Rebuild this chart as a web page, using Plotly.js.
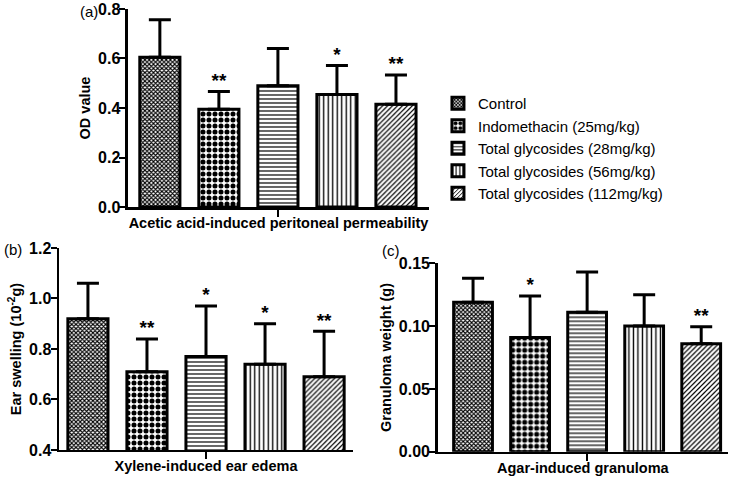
<!DOCTYPE html>
<html>
<head>
<meta charset="utf-8">
<script src="https://cdn.plot.ly/plotly-3.0.1.min.js"></script>
<style>
  html, body { margin: 0; padding: 0; background: #fff; }
  #chart { width: 733px; height: 478px; }
</style>
</head>
<body>
<div id="chart"></div>
<script>
// groups, shared by the three panels
const groups = ["Control", "Indomethacin (25mg/kg)", "Total glycosides (28mg/kg)",
                "Total glycosides (56mg/kg)", "Total glycosides (112mg/kg)"];

// (a) acetic acid-induced peritoneal permeability, OD value
const meanA = [0.605, 0.395, 0.49, 0.455, 0.415];
const sdA   = [0.152, 0.072, 0.15, 0.117, 0.118];
const starA = ["", "**", "", "*", "**"];

// (b) xylene-induced ear edema, ear swelling (10^-2 g)
const meanB = [0.92, 0.71, 0.77, 0.74, 0.69];
const sdB   = [0.14, 0.13, 0.20, 0.16, 0.18];
const starB = ["", "**", "*", "*", "**"];

// (c) agar-induced granuloma, granuloma weight (g)
const meanC = [0.119, 0.091, 0.111, 0.100, 0.086];
const sdC   = [0.019, 0.033, 0.032, 0.025, 0.0135];
const starC = ["", "*", "", "", "**"];

const patterns = [
    {shape: "x", size: 3, solidity: 0.6},
    {shape: ".", size: 6, solidity: 0.55},
    {shape: "-", size: 4, solidity: 0.3},
    {shape: "|", size: 4.5, solidity: 0.3},
    {shape: "/", size: 3.5, solidity: 0.35}
];

const FONT = "Liberation Sans, Arial, sans-serif";
let traces = [];

function addPanel(means, sds, stars, xa, ya, legend) {
    groups.forEach((g, i) => {
        traces.push({
            type: "bar",
            name: g,
            x: [i],
            y: [means[i]],
            width: 0.68,
            xaxis: xa, yaxis: ya,
            showlegend: legend,
            marker: {
                color: "#ffffff",
                line: {color: "#000", width: 3},
                pattern: Object.assign({fgcolor: "#000", bgcolor: "#fff", fillmode: "replace"}, patterns[i])
            },
            error_y: {type: "data", symmetric: false, array: [sds[i]], arrayminus: [0],
                      color: "#000", thickness: 3, width: 11},
            hoverinfo: "skip"
        });
    });
    // significance stars above the error bars
    traces.push({
        type: "scatter", mode: "text",
        x: groups.map((g, i) => i),
        y: means.map((m, i) => m + sds[i]),
        text: stars,
        textposition: "top center",
        textfont: {family: FONT, size: 19, color: "#000", weight: "bold"},
        xaxis: xa, yaxis: ya, showlegend: false, hoverinfo: "skip"
    });
}

addPanel(meanA, sdA, starA, "x", "y", true);
addPanel(meanB, sdB, starB, "x2", "y2", false);
addPanel(meanC, sdC, starC, "x3", "y3", false);

function xAxis(domain, range, title, anchor) {
    return {
        domain: domain, range: range, anchor: anchor,
        showgrid: false, zeroline: false, showline: true, linecolor: "#000", linewidth: 2.5,
        ticks: "outside", ticklen: 7, tickwidth: 2, tickcolor: "#000",
        tickvals: [2], ticktext: [""],
        title: {text: title, standoff: 0, font: {family: FONT, size: 14.5, color: "#000", weight: "bold"}},
        fixedrange: true
    };
}
function yAxis(domain, range, dtick, fmt, title, anchor) {
    return {
        domain: domain, range: range, anchor: anchor, dtick: dtick, tickformat: fmt,
        showgrid: false, zeroline: false, showline: true, linecolor: "#000", linewidth: 2.5,
        ticks: "outside", ticklen: 6, tickwidth: 2, tickcolor: "#000", ticklabelstandoff: -4,
        tickfont: {family: FONT, size: 16, color: "#000", weight: "bold"},
        title: {text: title, standoff: 4, font: {family: FONT, size: 14.5, color: "#000", weight: "bold"}},
        fixedrange: true
    };
}

const layout = {
    width: 733, height: 478,
    margin: {l: 0, r: 0, t: 0, b: 0},
    paper_bgcolor: "#fff", plot_bgcolor: "#fff",
    font: {family: FONT, color: "#000"},
    barmode: "overlay",
    xaxis: xAxis([0.1746, 0.5853], [-0.54, 4.56], "Acetic acid-induced peritoneal permeability", "y"),
    yaxis: yAxis([0.5669, 0.9812], [0, 0.8], 0.2, ".1f", "OD value", "x"),
    xaxis2: xAxis([0.0805, 0.4816], [-0.49, 4.49], "Xylene-induced ear edema", "y2"),
    yaxis2: yAxis([0.0586, 0.4812], [0.4, 1.2], 0.2, ".1f", "Ear swelling (10<sup>-2</sup>g)", "x2"),
    xaxis3: xAxis([0.5971, 0.9932], [-0.62, 4.47], "Agar-induced granuloma", "y3"),
    yaxis3: yAxis([0.055, 0.4492], [0, 0.15], 0.05, ".2f", "Granuloma weight (g)", "x3"),
    legend: {
        x: 0.5975, y: 0.818, xanchor: "left", yanchor: "top",
        font: {family: FONT, size: 15, color: "#000"},
        tracegroupgap: 0, itemwidth: 30, bgcolor: "rgba(0,0,0,0)"
    },
    annotations: [
        {text: "(a)", x: 78 / 733, y: 1 - 12 / 478},
        {text: "(b)", x: 2 / 733, y: 1 - 249 / 478},
        {text: "(c)", x: 380 / 733, y: 1 - 250 / 478}
    ].map(a => Object.assign({xref: "paper", yref: "paper", xanchor: "left", yanchor: "middle",
        showarrow: false, font: {family: FONT, size: 15, color: "#000"}}, a))
};

Plotly.newPlot("chart", traces, layout, {displayModeBar: false, staticPlot: true});
</script>
</body>
</html>
